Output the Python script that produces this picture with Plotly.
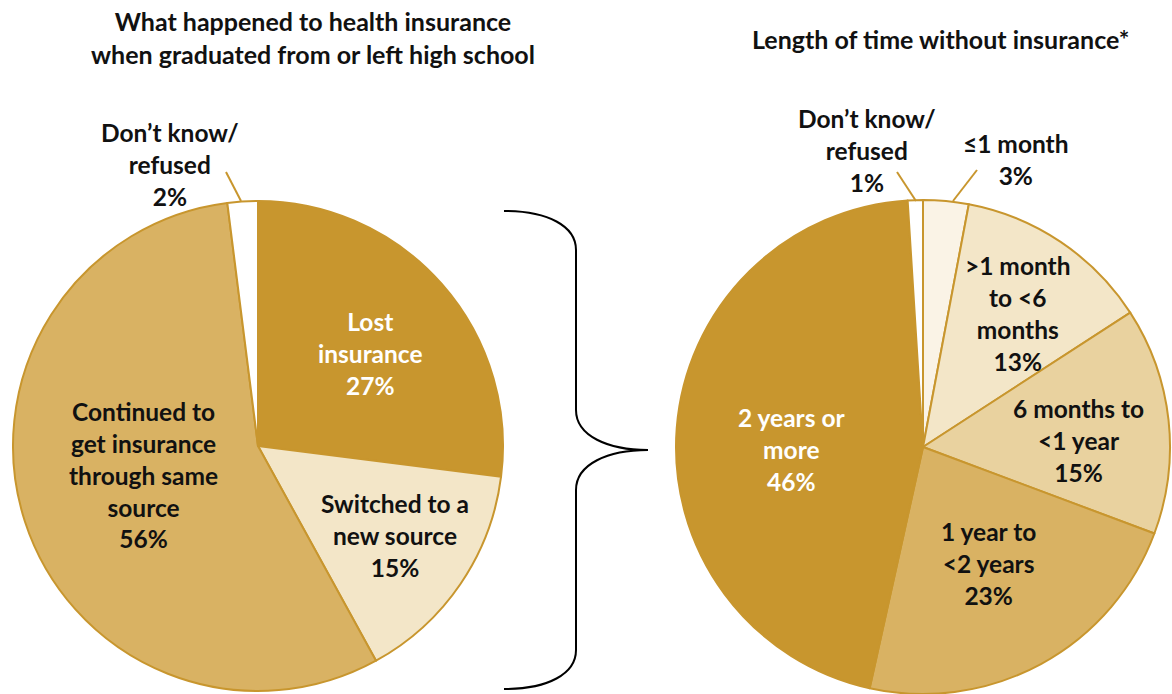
import plotly.graph_objects as go

W, H = 1172, 694

left_labels = ["Lost insurance", "Switched to a new source", "Continued to get insurance through same source", "Don't know/refused"]
left_values = [27, 15, 56, 2]
left_colors = ["#C8962E", "#F3E6C8", "#D9B263", "#FFFFFF"]

right_labels = ["≤1 month", ">1 month to <6 months", "6 months to <1 year", "1 year to <2 years", "2 years or more", "Don't know/refused"]
right_values = [3, 13, 15, 23, 46, 1]
right_colors = ["#FAF3E6", "#F3E6C8", "#E9D29F", "#D9B263", "#C8962E", "#FFFFFF"]

left_title = "What happened to health insurance<br>when graduated from or left high school"
right_title = "Length of time without insurance*"

FONT = "Lato"
GOLD = "#C8962E"

def px(x):
    return x / W

def py(y):
    return 1 - y / H

fig = go.Figure()
fig.add_trace(go.Pie(
    labels=left_labels, values=left_values, sort=False, direction="clockwise", rotation=0,
    marker=dict(colors=left_colors, line=dict(color=GOLD, width=2)),
    textinfo="none", hoverinfo="label+percent", showlegend=False,
    domain=dict(x=[px(13), px(503)], y=[py(691), py(201)]),
))
fig.add_trace(go.Pie(
    labels=right_labels, values=right_values, sort=False, direction="clockwise", rotation=0,
    marker=dict(colors=right_colors, line=dict(color=GOLD, width=2)),
    textinfo="none", hoverinfo="label+percent", showlegend=False,
    domain=dict(x=[px(676), px(1170)], y=[py(694), py(200)]),
))

ann = []
def add(text, x, y, color="#111111", size=24.5):
    ann.append(dict(text=text, x=px(x), y=py(y), xref="paper", yref="paper",
                    showarrow=False, xanchor="center", yanchor="middle", align="center",
                    font=dict(family=FONT, size=size, color=color, weight="bold")))

add(left_title, 313, 37, size=25)
add(right_title, 940, 39, size=25)

# left pie labels
add("Lost<br>insurance<br>%d%%" % left_values[0], 370, 354, color="#FFFFFF")
add("Switched to a<br>new source<br>%d%%" % left_values[1], 395, 535)
add("Continued to<br>get insurance<br>through same<br>source<br>%d%%" % left_values[2], 143, 475)
add("Don’t know/<br>refused<br>%d%%" % left_values[3], 170, 164)

# right pie labels
add("≤1 month<br>%d%%" % right_values[0], 1016, 159)
add("&gt;1 month<br>to &lt;6<br>months<br>%d%%" % right_values[1], 1018, 313)
add("6 months to<br>&lt;1 year<br>%d%%" % right_values[2], 1078, 440)
add("1 year to<br>&lt;2 years<br>%d%%" % right_values[3], 988, 563)
add("2 years or<br>more<br>%d%%" % right_values[4], 792, 449, color="#FFFFFF")
add("Don’t know/<br>refused<br>%d%%" % right_values[5], 867, 151)

shapes = []
def line(x0, y0, x1, y1):
    shapes.append(dict(type="line", xref="paper", yref="paper", x0=px(x0), y0=py(y0),
                       x1=px(x1), y1=py(y1), line=dict(color=GOLD, width=2)))

line(226, 172, 241, 201)
line(897, 172, 916, 201)
line(977, 170, 953, 201)

# curly brace
pts = [("M", [(504, 211)]),
       ("C", [(548, 211), (576, 226), (576, 250)]),
       ("L", [(576, 410)]),
       ("C", [(576, 436), (608, 450), (648, 450)]),
       ("C", [(608, 450), (576, 464), (576, 490)]),
       ("L", [(576, 650)]),
       ("C", [(576, 674), (548, 689), (504, 689)])]
path = " ".join(cmd + " " + " ".join("%.5f,%.5f" % (px(x), py(y)) for x, y in p) for cmd, p in pts)
shapes.append(dict(type="path", xref="paper", yref="paper", path=path,
                   line=dict(color="#000000", width=2)))

fig.update_layout(
    width=W, height=H, margin=dict(l=0, r=0, t=0, b=0),
    paper_bgcolor="white", plot_bgcolor="white",
    annotations=ann, shapes=shapes,
)

fig.write_html("out.html", config={"displayModeBar": False},
               post_script="document.body.style.margin='0';document.body.style.overflow='hidden';")
